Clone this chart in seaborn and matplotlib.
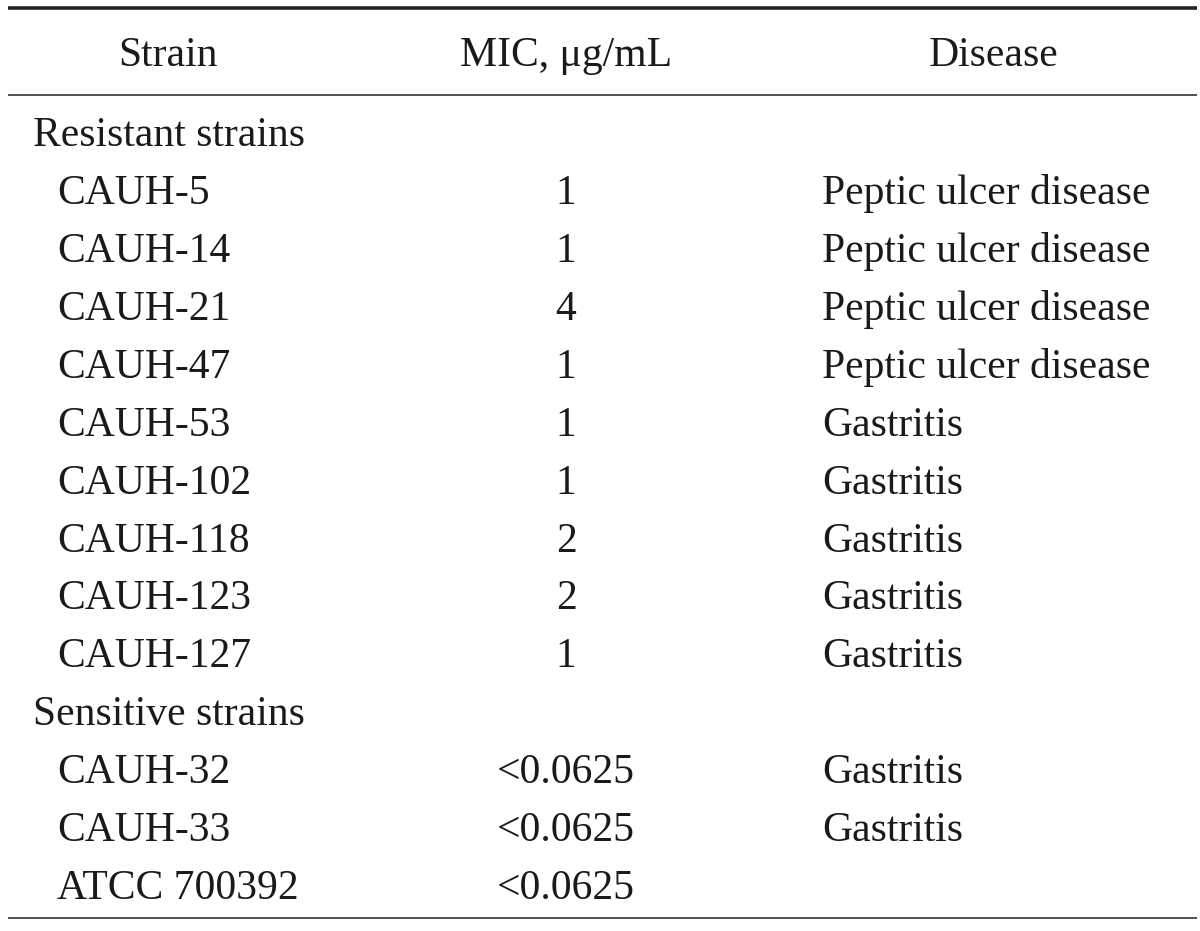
import matplotlib
matplotlib.use("Agg")
import matplotlib.pyplot as plt
import seaborn as sns

# table contents
columns = ["Strain", "MIC, μg/mL", "Disease"]
resistant_strains = ["CAUH-5", "CAUH-14", "CAUH-21", "CAUH-47", "CAUH-53",
                     "CAUH-102", "CAUH-118", "CAUH-123", "CAUH-127"]
resistant_mic = ["1", "1", "4", "1", "1", "1", "2", "2", "1"]
resistant_disease = ["Peptic ulcer disease", "Peptic ulcer disease", "Peptic ulcer disease",
                     "Peptic ulcer disease", "Gastritis", "Gastritis", "Gastritis",
                     "Gastritis", "Gastritis"]
sensitive_strains = ["CAUH-32", "CAUH-33", "ATCC 700392"]
sensitive_mic = ["<0.0625", "<0.0625", "<0.0625"]
sensitive_disease = ["Gastritis", "Gastritis", ""]
groups = [("Resistant strains", resistant_strains, resistant_mic, resistant_disease),
          ("Sensitive strains", sensitive_strains, sensitive_mic, sensitive_disease)]

sns.set_theme(style="white")
plt.rcParams["font.family"] = ["Liberation Serif", "DejaVu Serif"]

fig = plt.figure(figsize=(12, 9.31), dpi=100)
ax = fig.add_axes([0, 0, 1, 1])
ax.set_xlim(0, 1200)
ax.set_ylim(931, 0)
ax.axis("off")

fs = 30
color = "#1a1a1a"
dy = 4  # nudge text down to match baselines

# header
header_x = [168, 566, 994]
for x, name in zip(header_x, columns):
    ax.text(x, 52 + dy, name, ha="center", va="center", fontsize=fs, color=color)

ax.hlines(8, 8, 1197, color="#222222", linewidth=2.6)
ax.hlines(95, 8, 1197, color="#444444", linewidth=1.3)
ax.hlines(918, 8, 1197, color="#444444", linewidth=1.3)

y = 132
step = 57.9
for title, strains, mic, disease in groups:
    ax.text(33, y + dy, title, ha="left", va="center", fontsize=fs, color=color)
    y += step
    for s, m, d in zip(strains, mic, disease):
        ax.text(57, y + dy, s, ha="left", va="center", fontsize=fs, color=color)
        ax.text(566, y + dy, m, ha="center", va="center", fontsize=fs, color=color)
        ax.text(822, y + dy, d, ha="left", va="center", fontsize=fs, color=color)
        y += step

fig.savefig("out.png", dpi=100, facecolor="white")
